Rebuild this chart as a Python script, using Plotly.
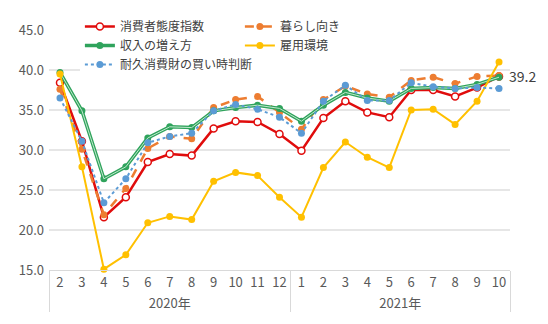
import plotly.graph_objects as go

year_2020 = "2020年"
year_2021 = "2021年"
months_2020 = ["2", "3", "4", "5", "6", "7", "8", "9", "10", "11", "12"]
months_2021 = ["1", "2", "3", "4", "5", "6", "7", "8", "9", "10"]

consumer = [38.4, 31.1, 21.6, 24.1, 28.5, 29.5, 29.3, 32.7, 33.6, 33.5, 32.0,
            29.9, 34.0, 36.1, 34.7, 34.1, 37.5, 37.5, 36.7, 37.8, 39.2]
livelihood = [37.6, 30.1, 21.9, 25.2, 30.2, 31.7, 31.4, 35.3, 36.3, 36.7, 34.7,
              32.6, 36.3, 38.0, 37.0, 36.6, 38.7, 39.1, 38.3, 39.2, 39.3]
income = [39.7, 34.9, 26.4, 27.9, 31.5, 32.9, 32.8, 34.9, 35.3, 35.6, 35.2,
          33.6, 35.6, 37.2, 36.5, 36.1, 37.7, 37.8, 37.7, 38.2, 39.1]
employment = [39.5, 27.9, 15.1, 16.9, 20.9, 21.7, 21.3, 26.1, 27.2, 26.8, 24.1,
              21.6, 27.8, 31.0, 29.1, 27.8, 35.0, 35.1, 33.2, 36.1, 41.0]
durable = [36.5, 31.1, 23.4, 26.4, 30.9, 31.7, 32.1, 34.9, 35.7, 35.1, 34.1,
           32.1, 36.1, 38.1, 36.2, 36.2, 38.4, 37.9, 37.7, 37.8, 37.7]

# Multicategory x: the 2021 month labels get an invisible zero-width suffix so that
# Plotly keeps them as their own categories and preserves chronological order.
level_year = [year_2020] * len(months_2020) + [year_2021] * len(months_2021)
level_month = months_2020 + [m + "\u200b" for m in months_2021]
x = [level_year, level_month]
n_points = len(level_month)
FONT = "Noto Sans CJK JP"

fig = go.Figure()
fig.add_trace(go.Scatter(x=x, y=consumer, name="消費者態度指数", mode="lines+markers",
                         line=dict(color="#E00C0C", width=2.5),
                         marker=dict(symbol="circle", size=7, color="white",
                                     line=dict(color="#E00C0C", width=1.5)),
                         cliponaxis=False))
fig.add_trace(go.Scatter(x=x, y=livelihood, name="暮らし向き", mode="lines+markers",
                         line=dict(color="#ED7D31", width=2.5, dash="dash"),
                         marker=dict(size=7, color="#ED7D31"), cliponaxis=False))
fig.add_trace(go.Scatter(x=x, y=income, name="収入の増え方", mode="lines+markers",
                         line=dict(color="#2FA35C", width=3.5),
                         marker=dict(size=7, color="#2FA35C"), cliponaxis=False))
fig.add_trace(go.Scatter(x=x, y=income, showlegend=False, mode="lines",
                         line=dict(color="#BFE8CC", width=1), hoverinfo="skip",
                         cliponaxis=False))
fig.add_trace(go.Scatter(x=x, y=employment, name="雇用環境", mode="lines+markers",
                         line=dict(color="#FFC000", width=2),
                         marker=dict(size=7, color="#FFC000"), cliponaxis=False))
fig.add_trace(go.Scatter(x=x, y=durable, name="耐久消費財の買い時判断", mode="lines+markers",
                         line=dict(color="#5B9BD5", width=2, dash="dot"),
                         marker=dict(size=7, color="#5B9BD5"), cliponaxis=False))

fig.add_annotation(x=[level_year[-1], level_month[-1]], y=consumer[-1],
                   text=f"{consumer[-1]:.1f}",
                   showarrow=False, xanchor="left", yanchor="middle", xshift=8,
                   font=dict(family=FONT, size=14, color="#404040"))

fig.update_layout(
    width=548, height=324,
    margin=dict(l=49, r=38, t=24, b=54),
    paper_bgcolor="white", plot_bgcolor="white",
    font=dict(family=FONT, size=13, color="#595959"),
    showlegend=True,
    legend=dict(orientation="h", x=0.067, y=1.075, xanchor="left", yanchor="top",
                bgcolor="white", entrywidth=115, tracegroupgap=0,
                font=dict(family=FONT, size=12, color="#404040"),
                itemwidth=30),
    xaxis=dict(type="multicategory", automargin=False, showline=True,
               range=[-0.5, n_points - 0.5],
               linecolor="#D9D9D9", linewidth=1,
               showgrid=False, ticks="", tickangle=0, showdividers=True,
               dividercolor="#D9D9D9", dividerwidth=1,
               tickfont=dict(size=13, color="#595959")),
    yaxis=dict(range=[15, 45], dtick=5, tickformat=".1f", showgrid=True,
               automargin=False,
               gridcolor="#E6E6E6", gridwidth=1.5, zeroline=False,
               ticklabelstandoff=4,
               tickfont=dict(size=13, color="#595959")),
)

fig.write_html("out.html")
